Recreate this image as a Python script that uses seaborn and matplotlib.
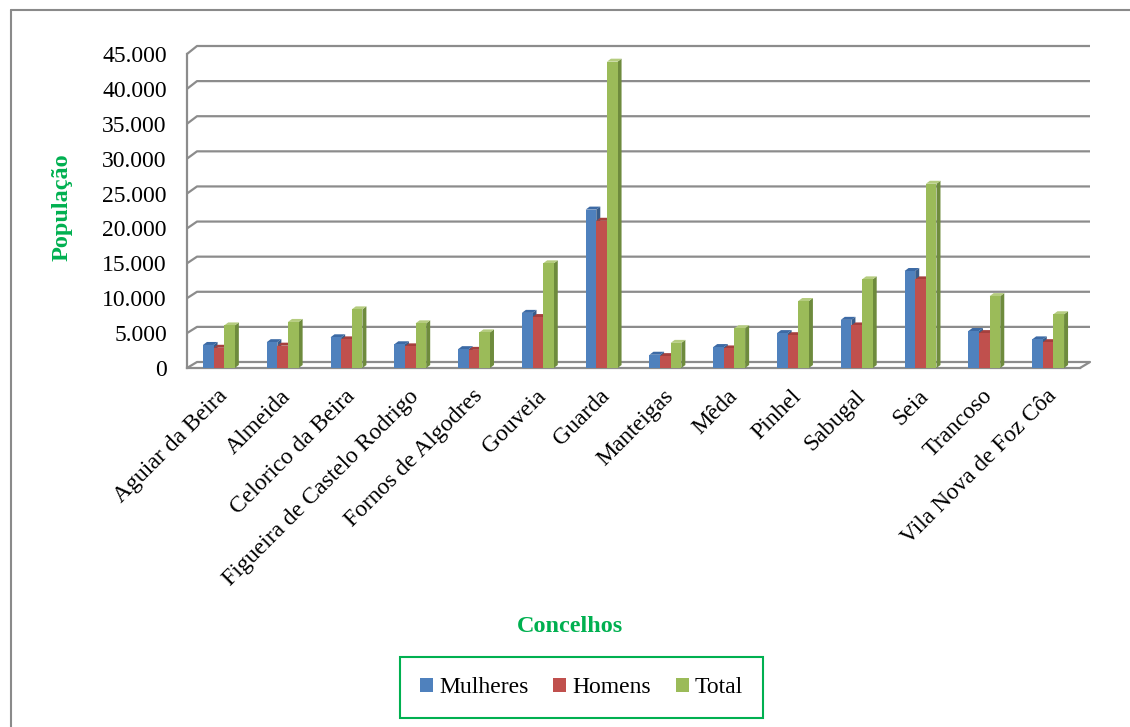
import numpy as np
import pandas as pd
import matplotlib
matplotlib.use("Agg")
import matplotlib.pyplot as plt
import matplotlib.transforms as mtransforms
import seaborn as sns
from matplotlib.patches import Polygon, Patch
from matplotlib.lines import Line2D
from matplotlib.ticker import FixedLocator, FuncFormatter

# Population per municipality (Guarda district)
concelhos = [
    "Aguiar da Beira", "Almeida", "Celorico da Beira",
    "Figueira de Castelo Rodrigo", "Fornos de Algodres", "Gouveia",
    "Guarda", "Manteigas", "Mêda", "Pinhel", "Sabugal", "Seia",
    "Trancoso", "Vila Nova de Foz Côa",
]
mulheres = [3300, 3700, 4400, 3400, 2700, 7900, 22700, 1900, 3000, 5000, 6900, 13900, 5300, 4100]
homens = [2900, 3200, 4100, 3100, 2600, 7300, 21100, 1700, 2800, 4700, 6100, 12700, 5000, 3700]
total = [6100, 6600, 8400, 6400, 5100, 15000, 43900, 3600, 5700, 9600, 12700, 26400, 10300, 7700]
series = ["Mulheres", "Homens", "Total"]
y_ticks = [0, 5000, 10000, 15000, 20000, 25000, 30000, 35000, 40000, 45000]

df = pd.DataFrame({
    "Concelho": concelhos * 3,
    "Série": sum([[s] * len(concelhos) for s in series], []),
    "População": mulheres + homens + total,
})

front_colors = ["#4F81BD", "#C0504D", "#9BBB59"]
side_colors = ["#385D8A", "#8C3A38", "#6E8B3D"]
top_colors = ["#3C6AA5", "#A5403D", "#B5CC7F"]
grid_color = "#8C8C8C"
title_green = "#00B050"

W, H = 1130, 727
sns.set_theme(style="white")
plt.rcParams["font.family"] = ["Liberation Serif", "DejaVu Serif"]
plt.rcParams["text.color"] = "black"

fig = plt.figure(figsize=(W / 100, H / 100), dpi=100)
ax = fig.add_axes([187 / W, 1 - 368 / H, 893 / W, 314 / H])
ax.set_facecolor("none")

sns.barplot(data=df, x="Concelho", y="População", hue="Série",
            hue_order=series, order=concelhos, palette=front_colors,
            width=0.5, saturation=1, linewidth=0, legend=False, ax=ax)

ax.set_xlim(-0.5, len(concelhos) - 0.5)
ax.set_ylim(0, 45000)
ax.yaxis.set_major_locator(FixedLocator(y_ticks))
ax.yaxis.set_major_formatter(FuncFormatter(lambda v, p: f"{int(v):,}".replace(",", ".")))
ax.set_xlabel("")
ax.set_ylabel("")
ax.grid(False)

for side in ["top", "right"]:
    ax.spines[side].set_visible(False)
for side in ["left", "bottom"]:
    ax.spines[side].set_color(grid_color)
    ax.spines[side].set_linewidth(1.6)
    ax.spines[side].set_zorder(1)

ax.tick_params(axis="y", length=4.5, width=1.6, color=grid_color,
               labelsize=17, pad=10, labelcolor="black")
ax.tick_params(axis="x", length=0, labelsize=17, pad=13, labelcolor="black")
ax.set_xticks(range(len(concelhos)))
ax.set_xticklabels(concelhos, rotation=45, ha="right", va="center",
                   rotation_mode="anchor")
label_shift = mtransforms.ScaledTranslation(0.05, -0.07, fig.dpi_scale_trans)
for lbl in ax.get_xticklabels():
    lbl.set_transform(lbl.get_transform() + label_shift)

fig.canvas.draw()
to_disp = ax.transData.transform
to_data = ax.transData.inverted().transform


def shifted(x, y, dx, dy):
    d = to_disp((x, y)) + np.array([dx, dy])
    return to_data(d)


# back wall, left wall connectors and floor
x0, x1 = ax.get_xlim()
for v in y_ticks:
    frac = v / 45000
    dy = 6 + 2 * frac
    b0 = shifted(x0, v, 10, dy)
    b1 = shifted(x1, v, 10, dy)
    ax.add_line(Line2D([x0, b0[0], b1[0]], [v, b0[1], b1[1]],
                       color=grid_color, lw=1.6, clip_on=False, zorder=1,
                       solid_capstyle="butt"))
br = shifted(x1, 0, 10, 6)
ax.add_line(Line2D([x1, br[0]], [0, br[1]], color=grid_color, lw=1.6,
                   clip_on=False, zorder=1))

# 3D faces of the columns
depth_dx, depth_dy = 4, 3
for i, cont in enumerate(ax.containers):
    base_z = 3 + i * 0.3
    for p in cont.patches:
        p.set_zorder(base_z + 0.1)
        bx, bw, bh = p.get_x(), p.get_width(), p.get_height()
        r0 = (bx + bw, 0)
        r1 = (bx + bw, bh)
        l1 = (bx, bh)
        side = [r0, r1, shifted(*r1, depth_dx, depth_dy), shifted(*r0, depth_dx, depth_dy)]
        top = [l1, r1, shifted(*r1, depth_dx, depth_dy), shifted(*l1, depth_dx, depth_dy)]
        ax.add_patch(Polygon(side, closed=True, facecolor=side_colors[i],
                             edgecolor="none", zorder=base_z, clip_on=False))
        ax.add_patch(Polygon(top, closed=True, facecolor=top_colors[i],
                             edgecolor="none", zorder=base_z, clip_on=False))

# axis titles
fig.text(62 / W, 1 - 207 / H, "População", rotation=90, ha="center", va="center",
         color=title_green, fontsize=17.5, fontweight="bold")
fig.text(569.5 / W, 1 - 626 / H, "Concelhos", ha="center", va="center",
         color=title_green, fontsize=17.5, fontweight="bold")

# legend
handles = [Patch(facecolor=c, edgecolor="none") for c in front_colors]
leg = fig.legend(handles, series, loc="center",
                 bbox_to_anchor=(581.5 / W, 1 - 687.5 / H),
                 bbox_transform=fig.transFigure, ncol=3, fontsize=17,
                 handlelength=0.55, handleheight=0.55, handletextpad=0.25,
                 columnspacing=1.05, borderpad=0.85, fancybox=False,
                 frameon=True, framealpha=1, labelcolor="black")
leg.get_frame().set_edgecolor(title_green)
leg.get_frame().set_linewidth(1.5)

# chart area border
fig.add_artist(Line2D([11 / W, 11 / W], [0, 1 - 10 / H], color="#8A8A8A", lw=1.5,
                      transform=fig.transFigure))
fig.add_artist(Line2D([11 / W, 1], [1 - 10 / H, 1 - 10 / H], color="#8A8A8A", lw=1.5,
                      transform=fig.transFigure))

fig.savefig("out.png", dpi=100, facecolor="white")
